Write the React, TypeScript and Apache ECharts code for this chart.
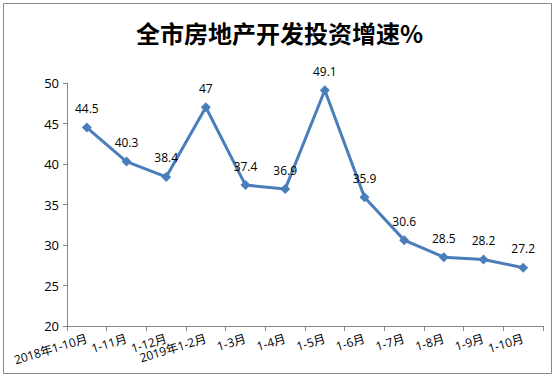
import React, { useEffect, useRef } from "react";
import * as echarts from "echarts";

const titleText = "全市房地产开发投资增速%";
const categories = [
  "2018年1-10月",
  "1-11月",
  "1-12月",
  "2019年1-2月",
  "1-3月",
  "1-4月",
  "1-5月",
  "1-6月",
  "1-7月",
  "1-8月",
  "1-9月",
  "1-10月",
];
const growth = [44.5, 40.3, 38.4, 47, 37.4, 36.9, 49.1, 35.9, 30.6, 28.5, 28.2, 27.2];
const yMin = 20;
const yMax = 50;
const yStep = 5;

const labelFont = '"Open Sans", "Noto Sans CJK SC", sans-serif';

export default function App() {
  const ref = useRef<HTMLDivElement>(null);
  useEffect(() => {
    if (!ref.current) return;
    const chart = echarts.init(ref.current, null, { renderer: "svg" });
    chart.setOption({
      animation: false,
      backgroundColor: "#ffffff",
      title: {
        text: titleText,
        left: "center",
        top: 15,
        textStyle: {
          fontFamily: '"Noto Sans CJK SC", sans-serif',
          fontSize: 24,
          fontWeight: "bold",
          color: "#000000",
        },
      },
      graphic: [
        {
          type: "rect",
          shape: { x: 3.5, y: 3.5, width: 548, height: 370 },
          style: { fill: "none", stroke: "#8a8a8a", lineWidth: 1 },
          silent: true,
        },
      ],
      grid: { left: 67, right: 16, top: 83, bottom: 57 },
      xAxis: {
        type: "category",
        data: categories,
        boundaryGap: true,
        axisLine: { lineStyle: { color: "#868686", width: 1 } },
        axisTick: { show: true, length: 5, lineStyle: { color: "#868686" } },
        axisLabel: {
          interval: 0,
          rotate: 17,
          margin: 12,
          fontSize: 12,
          color: "#000000",
          fontFamily: labelFont,
        },
        splitLine: { show: false },
      },
      yAxis: {
        type: "value",
        min: yMin,
        max: yMax,
        interval: yStep,
        axisLine: { show: true, lineStyle: { color: "#868686", width: 1 } },
        axisTick: { show: true, length: 4, lineStyle: { color: "#868686" } },
        axisLabel: {
          fontSize: 13,
          color: "#000000",
          margin: 8,
          fontFamily: labelFont,
        },
        splitLine: { show: false },
      },
      series: [
        {
          type: "line",
          data: growth,
          symbol: "diamond",
          symbolSize: 10,
          itemStyle: { color: "#4A7EBB" },
          lineStyle: { color: "#4A7EBB", width: 3 },
          label: {
            show: true,
            position: "top",
            distance: 8,
            fontSize: 12,
            color: "#000000",
            fontFamily: labelFont,
          },
        },
      ],
    });
    return () => chart.dispose();
  }, []);
  return (
    <div
      ref={ref}
      style={{ position: "fixed", left: 0, top: 0, width: 559, height: 383 }}
    />
  );
}
